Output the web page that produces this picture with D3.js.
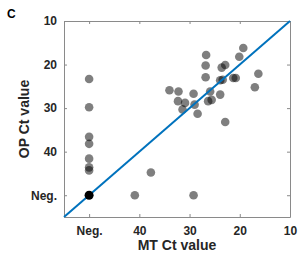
<!DOCTYPE html>
<meta charset="utf-8">
<style>
body { margin: 0; background: #fff; }
svg { display: block; font-family: "Liberation Sans", Arial, sans-serif; }
.axis text { font-size: 12px; font-weight: bold; fill: #262626; }
.axis path, .axis line { stroke: #8a8a8a; }
</style>
<svg width="299" height="256"></svg>
<script src="https://d3js.org/d3.v7.min.js"></script>
<script>

// Neg. is plotted at 50
var NEG = 50;

var tickValues = [50, 40, 30, 20, 10],
    tickLabels = ["Neg.", "40", "30", "20", "10"];

// MT Ct (x) and OP Ct (y) for samples
var mtCt = [19.3, 20.1, 26.7, 26.8, 22.9, 23.6, 26.8, 23.9, 23.4, 21.3, 20.8, 16.3, 17.0,
            34.0, 32.2, 29.2, 25.9, 23.9, 32.3, 30.9, 29.0, 26.3, 25.6, 31.4, 28.4, 22.9,
            NEG, NEG, NEG, NEG, NEG, NEG, NEG,
            40.9, 29.2, 37.7];
var opCt = [16.2, 18.2, 17.8, 20.2, 20.1, 20.7, 22.9, 23.6, 23.5, 23.1, 23.1, 22.1, 25.2,
            25.9, 26.2, 26.7, 26.2, 26.9, 28.4, 28.8, 29.2, 28.4, 28.1, 30.3, 31.3, 33.2,
            23.3, 29.8, 36.6, 38.2, 41.6, 43.6, 44.3,
            NEG, NEG, 44.8];

// both negative
var bothNeg = [[NEG, NEG]];

var svg = d3.select("svg"),
    margin = {top: 21, right: 9, bottom: 39, left: 64},
    width = +svg.attr("width") - margin.left - margin.right,
    height = +svg.attr("height") - margin.top - margin.bottom,
    g = svg.append("g").attr("transform", "translate(" + margin.left + "," + margin.top + ")");

var x = d3.scaleLinear().domain([55, 10]).range([0, width]),
    y = d3.scaleLinear().domain([10, 55]).range([0, height]);

function fmt(d) { return tickLabels[tickValues.indexOf(d)]; }

g.append("g")
    .attr("class", "axis")
    .attr("transform", "translate(0," + height + ")")
    .call(d3.axisBottom(x).tickValues(tickValues).tickFormat(fmt).tickSizeInner(-3).tickSizeOuter(0).tickPadding(9));

g.append("g")
    .attr("class", "axis")
    .call(d3.axisLeft(y).tickValues(tickValues).tickFormat(fmt).tickSizeInner(-3).tickSizeOuter(0).tickPadding(7));

g.append("g")
    .attr("class", "axis")
    .call(d3.axisTop(x).tickValues(tickValues).tickFormat("").tickSizeInner(-3).tickSizeOuter(0));

g.append("g")
    .attr("class", "axis")
    .attr("transform", "translate(" + width + ",0)")
    .call(d3.axisRight(y).tickValues(tickValues).tickFormat("").tickSizeInner(-3).tickSizeOuter(0));

g.selectAll(".axis .domain").attr("stroke", "#8a8a8a");

g.selectAll(".dot")
    .data(d3.range(mtCt.length))
  .enter().append("circle")
    .attr("class", "dot")
    .attr("cx", function(i) { return x(mtCt[i]); })
    .attr("cy", function(i) { return y(opCt[i]); })
    .attr("r", 4.3)
    .attr("fill", "#000")
    .attr("fill-opacity", 0.5);

g.append("line")
    .attr("x1", x(55)).attr("y1", y(55))
    .attr("x2", x(10)).attr("y2", y(10))
    .attr("stroke", "#0072BD")
    .attr("stroke-width", 2);

g.selectAll(".neg")
    .data(bothNeg)
  .enter().append("circle")
    .attr("cx", function(d) { return x(d[0]); })
    .attr("cy", function(d) { return y(d[1]); })
    .attr("r", 4.5)
    .attr("fill", "#000");

svg.append("text")
    .attr("x", margin.left + width / 2)
    .attr("y", 250)
    .attr("text-anchor", "middle")
    .style("font-size", "14px")
    .style("font-weight", "bold")
    .style("fill", "#262626")
    .text("MT Ct value");

svg.append("text")
    .attr("transform", "translate(29," + (margin.top + height / 2) + ") rotate(-90)")
    .attr("text-anchor", "middle")
    .style("font-size", "14px")
    .style("font-weight", "bold")
    .style("fill", "#262626")
    .text("OP Ct value");

svg.append("text")
    .attr("x", 7)
    .attr("y", 18)
    .style("font-size", "12px")
    .style("font-weight", "bold")
    .text("C");
</script>
